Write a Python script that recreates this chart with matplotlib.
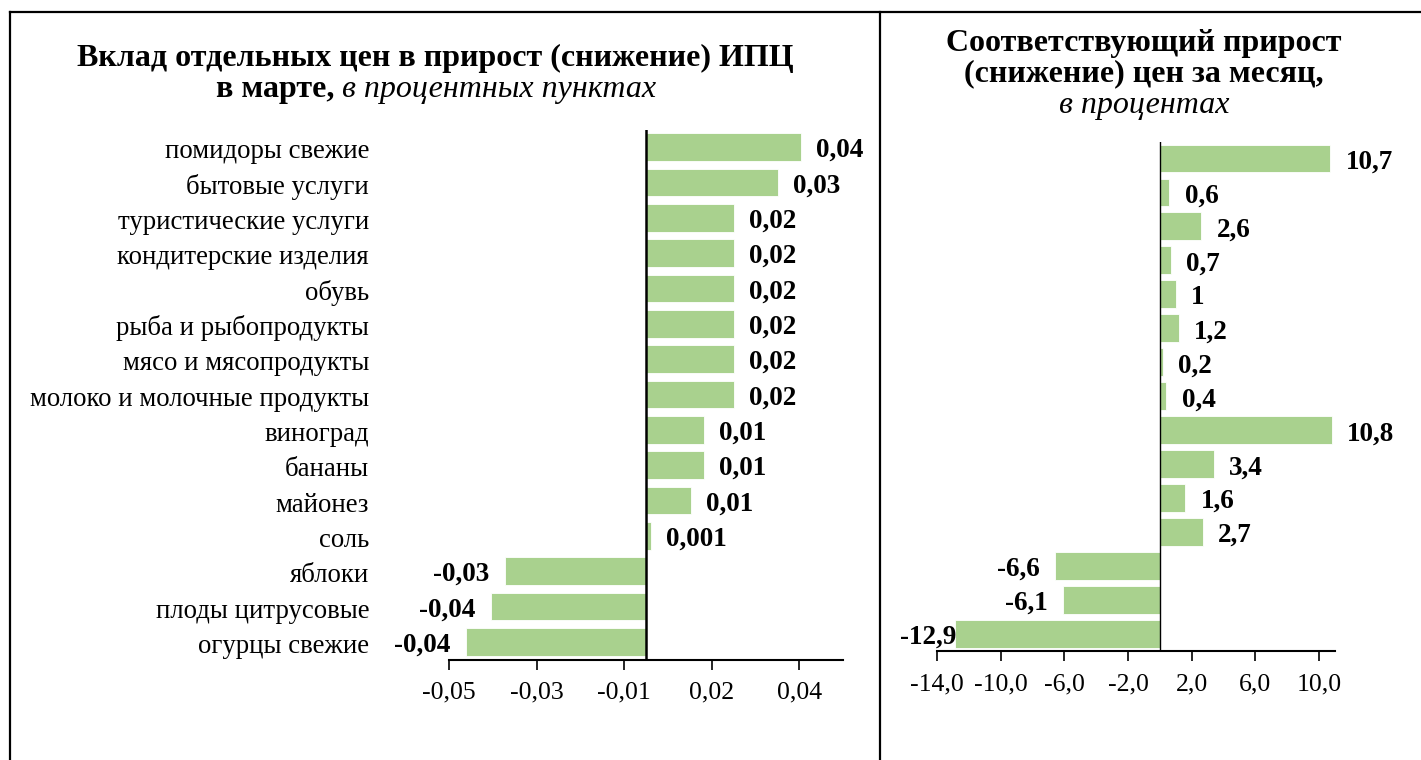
import matplotlib
matplotlib.use("Agg")
import matplotlib.pyplot as plt
from matplotlib.lines import Line2D

plt.rcParams['font.family'] = ['Liberation Serif', 'DejaVu Serif']

categories = ["помидоры свежие", "бытовые услуги", "туристические услуги",
              "кондитерские изделия", "обувь", "рыба и рыбопродукты",
              "мясо и мясопродукты", "молоко и молочные продукты", "виноград",
              "бананы", "майонез", "соль", "яблоки", "плоды цитрусовые",
              "огурцы свежие"]
contrib = [0.0354, 0.0301, 0.0201, 0.0201, 0.0201, 0.0201, 0.0201, 0.0201,
           0.0132, 0.0132, 0.0102, 0.0011, -0.0323, -0.0355, -0.0411]
contrib_labels = ["0,04", "0,03", "0,02", "0,02", "0,02", "0,02", "0,02", "0,02",
                  "0,01", "0,01", "0,01", "0,001", "-0,03", "-0,04", "-0,04"]
price_change = [10.7, 0.6, 2.6, 0.7, 1.0, 1.2, 0.2, 0.4, 10.8, 3.4, 1.6, 2.7,
                -6.6, -6.1, -12.9]
price_labels = ["10,7", "0,6", "2,6", "0,7", "1", "1,2", "0,2", "0,4", "10,8",
                "3,4", "1,6", "2,7", "-6,6", "-6,1", "-12,9"]
left_ticks = [-0.045, -0.025, -0.005, 0.015, 0.035]
left_ticklabels = ["-0,05", "-0,03", "-0,01", "0,02", "0,04"]
right_ticks = [-14, -10, -6, -2, 2, 6, 10]
right_ticklabels = ["-14,0", "-10,0", "-6,0", "-2,0", "2,0", "6,0", "10,0"]

GREEN = "#A9D18E"
W, H = 1421, 760
fig = plt.figure(figsize=(W / 100, H / 100), dpi=100)
PT = 72 / 100  # points per pixel

def fx(px):
    return px / W

def fy(py):
    return 1 - py / H

# frame lines
fig.add_artist(Line2D([fx(10), fx(10)], [fy(12), 0], color="black", lw=1.6, transform=fig.transFigure))
fig.add_artist(Line2D([fx(10), 1], [fy(12), fy(12)], color="black", lw=1.6, transform=fig.transFigure))
fig.add_artist(Line2D([fx(880), fx(880)], [fy(12), 0], color="black", lw=1.6, transform=fig.transFigure))

ax1 = fig.add_axes([fx(449), fy(659.5), fx(843 - 449), (659.5 - 129.5) / H])
ax2 = fig.add_axes([fx(937), fy(651), fx(1335 - 937), (651 - 141.5) / H])

n = len(categories)
ypos = list(range(n))

CFS = 19.3
TKFS = 18.5
DFS = 19.5
TFS = 23

def style(ax, xlim, ticks, ticklabels):
    ax.set_xlim(*xlim)
    ax.set_ylim(n - 0.5, -0.5)
    for s in ["top", "right", "left"]:
        ax.spines[s].set_visible(False)
    ax.spines["bottom"].set_linewidth(1.5)
    ax.set_xticks(ticks)
    ax.set_xticklabels(ticklabels, fontsize=TKFS)
    ax.tick_params(axis="x", direction="out", length=7, width=1.2, pad=9)
    ax.set_yticks([])

def data_labels(ax, values, labels, clamp=None):
    for y, v, lab in zip(ypos, values, labels):
        if v >= 0:
            ax.annotate(lab, (v, y), xytext=(11, -10 * PT), textcoords="offset points",
                        ha="left", va="baseline", fontsize=DFS, fontweight="bold")
        elif clamp is not None and v < clamp:
            ax.annotate(lab, (v, y), xytext=(1, -10 * PT), textcoords="offset points",
                        ha="right", va="baseline", fontsize=DFS, fontweight="bold")
        else:
            ax.annotate(lab, (v, y), xytext=(-11, -10 * PT), textcoords="offset points",
                        ha="right", va="baseline", fontsize=DFS, fontweight="bold")

# left chart
ax1.barh(ypos, contrib, height=0.79, color=GREEN, edgecolor="white", linewidth=0.6)
ax1.axvline(0, color="black", lw=1.8)
style(ax1, (-0.045, 0.045), left_ticks, left_ticklabels)
for y, cat in zip(ypos, categories):
    ax1.annotate(cat, xy=(0, y), xycoords=("axes fraction", "data"),
                 xytext=(-80 * PT, -11 * PT), textcoords="offset points",
                 ha="right", va="baseline", fontsize=CFS)
data_labels(ax1, contrib, contrib_labels)

# right chart
ax2.barh(ypos, price_change, height=0.82, color=GREEN, edgecolor="white", linewidth=0.6)
ax2.axvline(0, color="black", lw=1.0)
style(ax2, (-14, 11), right_ticks, right_ticklabels)
data_labels(ax2, price_change, price_labels, clamp=-10)

# titles
fig.text(fx(435), fy(58), "Вклад отдельных цен в прирост (снижение) ИПЦ",
         ha="center", va="center", fontsize=TFS, fontweight="bold")

fig.canvas.draw()
r = fig.canvas.get_renderer()
t_a = fig.text(0, fy(89), "в марте, ", ha="left", va="center", fontsize=TFS, fontweight="bold")
t_b = fig.text(0, fy(89), "в процентных пунктах", ha="left", va="center", fontsize=TFS, style="italic")
wa = t_a.get_window_extent(r).width
wb = t_b.get_window_extent(r).width
start = 436 - (wa + wb) / 2
t_a.set_x(fx(start))
t_b.set_x(fx(start + wa))

fig.text(fx(1144), fy(43), "Соответствующий прирост", ha="center", va="center",
         fontsize=TFS, fontweight="bold")
fig.text(fx(1144), fy(74), "(снижение) цен за месяц,", ha="center", va="center",
         fontsize=TFS, fontweight="bold")
fig.text(fx(1144), fy(106), "в процентах", ha="center", va="center",
         fontsize=TFS, style="italic")

fig.savefig("out.png", dpi=100)
